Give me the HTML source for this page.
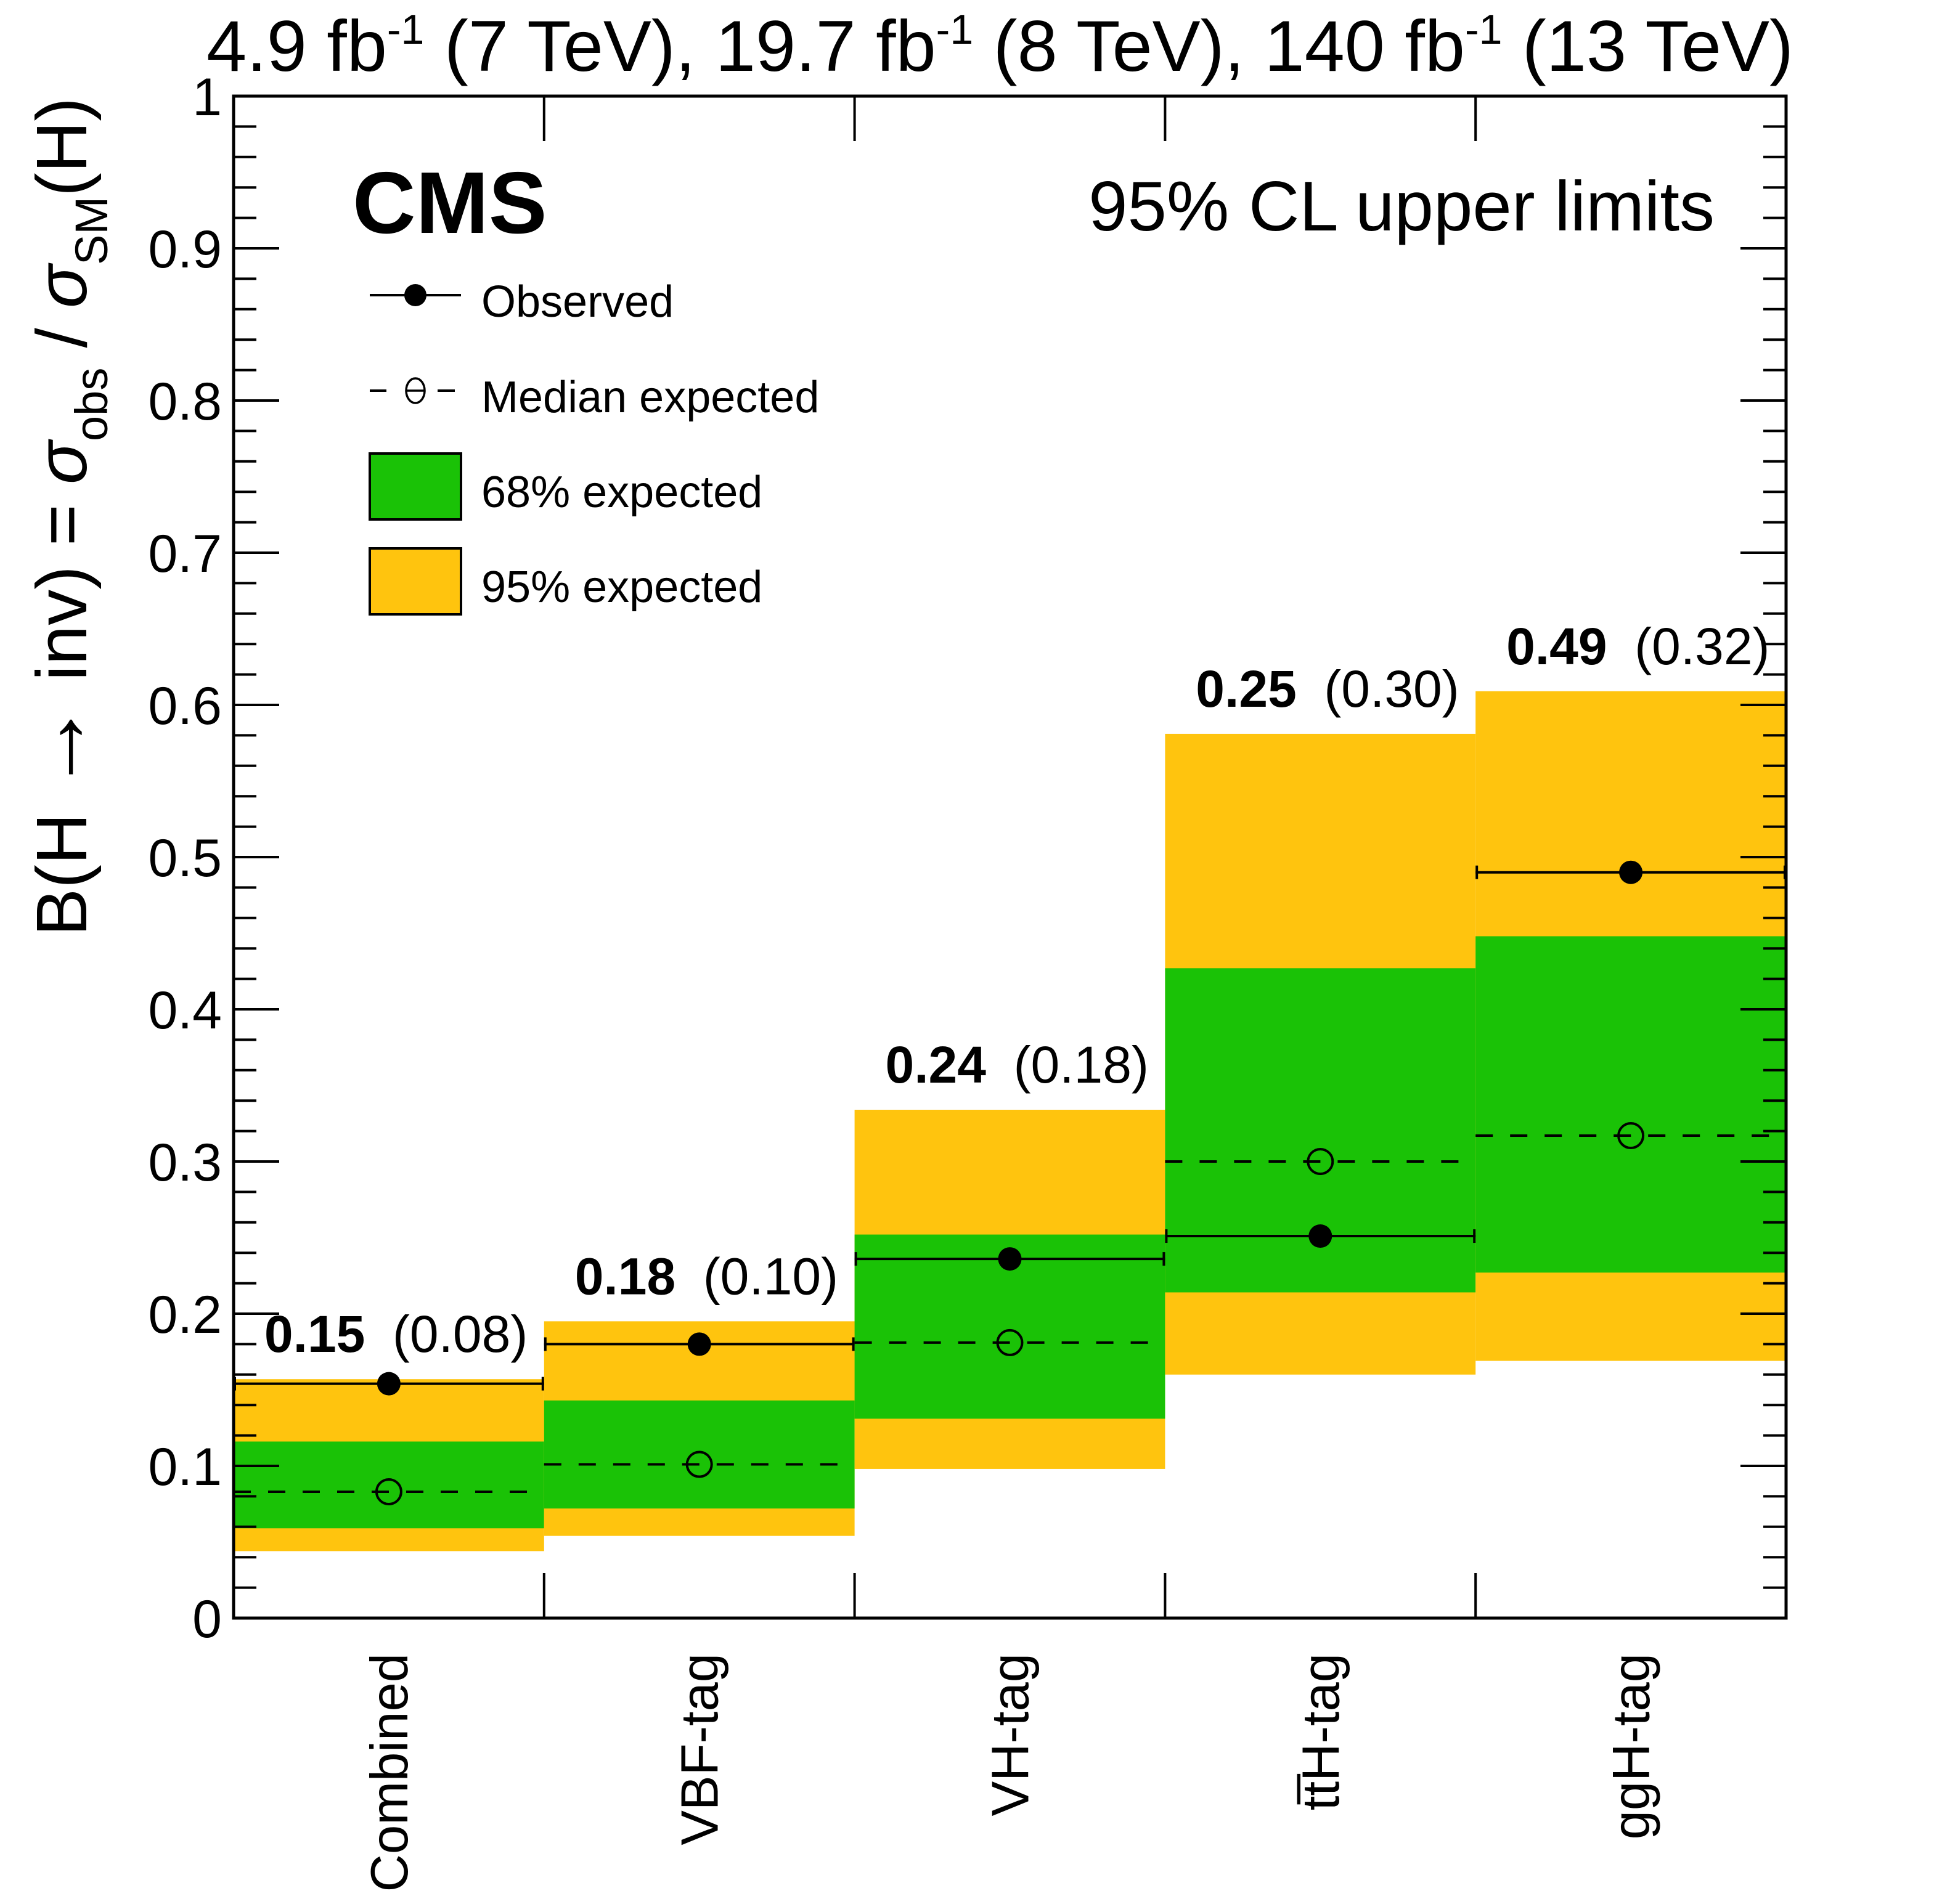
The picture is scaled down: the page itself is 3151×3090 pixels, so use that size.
<!DOCTYPE html>
<html><head><meta charset="utf-8"><style>
html,body{margin:0;padding:0;background:#fff;}
svg{display:block;font-family:"Liberation Sans",sans-serif;}
</style></head><body>
<svg id="chart" width="3151" height="3090" viewBox="0 0 3151 3090" xmlns="http://www.w3.org/2000/svg">
<g id="bands"></g>
<g id="marks"></g>
<g id="axes"></g>
<text x="2910" y="115" text-anchor="end" font-size="117">4.9 fb<tspan dy="-44" font-size="68">-1</tspan><tspan dy="44"> (7 TeV), 19.7 fb</tspan><tspan dy="-44" font-size="68">-1</tspan><tspan dy="44"> (8 TeV), 140 fb</tspan><tspan dy="-44" font-size="68">-1</tspan><tspan dy="44"> (13 TeV)</tspan></text>
<text x="572" y="378" font-size="142" font-weight="bold">CMS</text>
<text x="2782" y="374" text-anchor="end" font-size="114">95% CL upper limits</text>
<text transform="translate(140,158) rotate(-90)" text-anchor="end" font-size="116">B(H <tspan font-size="150">→</tspan> inv) = <tspan font-style="italic">σ</tspan><tspan dy="34" font-size="74">obs</tspan><tspan dy="-34"> / </tspan><tspan font-style="italic">σ</tspan><tspan dy="34" font-size="74">SM</tspan><tspan dy="-34">(H)</tspan></text>
<g>
 <g>
  <line x1="600" y1="479" x2="748" y2="479" stroke="#000" stroke-width="4"/>
  <circle cx="674" cy="479" r="18" fill="#000"/>
  <text x="781" y="514" font-size="72">Observed</text>
 </g>
 <g>
  <line x1="600" y1="634" x2="627" y2="634" stroke="#000" stroke-width="4"/>
  <line x1="710" y1="634" x2="738" y2="634" stroke="#000" stroke-width="4"/>
  <ellipse cx="674" cy="634" rx="15" ry="20" fill="none" stroke="#000" stroke-width="3.5"/>
  <line x1="659" y1="634" x2="689" y2="634" stroke="#000" stroke-width="3.5"/>
  <text x="781" y="669" font-size="72">Median expected</text>
 </g>
 <g>
  <rect x="600" y="736" width="148" height="107" fill="#1ac206" stroke="#000" stroke-width="4"/>
  <text x="781" y="823" font-size="72">68% expected</text>
 </g>
 <g>
  <rect x="600" y="890" width="148" height="107" fill="#ffc40e" stroke="#000" stroke-width="4"/>
  <text x="781" y="977" font-size="72">95% expected</text>
 </g>
</g>
</svg>
<script>
const categories = ["Combined","VBF-tag","VH-tag","tt\u0305H-tag","ggH-tag"];
const observed = [0.154,0.180,0.236,0.251,0.490];
const expected = [0.083,0.101,0.181,0.300,0.317];
const lo95 = [0.044,0.054,0.098,0.160,0.169];
const hi95 = [0.157,0.195,0.334,0.581,0.609];
const lo68 = [0.059,0.072,0.131,0.214,0.227];
const hi68 = [0.116,0.143,0.252,0.427,0.448];
const obsLabels = ["0.15","0.18","0.24","0.25","0.49"];
const expLabels = ["(0.08)","(0.10)","(0.18)","(0.30)","(0.32)"];
const yTicks = [0,0.1,0.2,0.3,0.4,0.5,0.6,0.7,0.8,0.9,1];
const yTickLabels = ["0","0.1","0.2","0.3","0.4","0.5","0.6","0.7","0.8","0.9","1"];

const NS="http://www.w3.org/2000/svg";
const X0=379, X1=2898, Y0=2626, Y1=156;
const colW=(X1-X0)/categories.length;
function xs(i){return X0+i*colW;}
function ys(v){return Y0-(v-0)/(1-0)*(Y0-Y1);}
function mk(tag,attrs,parent){const e=document.createElementNS(NS,tag);for(const k in attrs)e.setAttribute(k,attrs[k]);parent.appendChild(e);return e;}
const bands=document.getElementById('bands'), marks=document.getElementById('marks'), axes=document.getElementById('axes');

categories.forEach((c,i)=>{
  const xl=xs(i), xr=xs(i+1), xc=(xl+xr)/2;
  let r=mk('rect',{x:xl,y:ys(hi95[i]),width:colW,height:ys(lo95[i])-ys(hi95[i]),fill:'#ffc40e'},bands);
  
  
  r=mk('rect',{x:xl,y:ys(hi68[i]),width:colW,height:ys(lo68[i])-ys(hi68[i]),fill:'#1ac206'},bands);
  
  
  let l=mk('line',{x1:xl,y1:ys(expected[i]),x2:xr,y2:ys(expected[i]),stroke:'#000','stroke-width':4,'stroke-dasharray':'28 28'},marks);
  
  
  let ci=mk('circle',{cx:xc,cy:ys(expected[i]),r:20,fill:'none',stroke:'#000','stroke-width':4},marks);
  
  
  const yo=ys(observed[i]);
  l=mk('line',{x1:xl,y1:yo,x2:xr,y2:yo,stroke:'#000','stroke-width':4},marks);
  
  
  mk('line',{x1:xl+2,y1:yo-11,x2:xl+2,y2:yo+11,stroke:'#000','stroke-width':4},marks);
  mk('line',{x1:xr-2,y1:yo-11,x2:xr-2,y2:yo+11,stroke:'#000','stroke-width':4},marks);
  ci=mk('circle',{cx:xc,cy:yo,r:19,fill:'#000'},marks);
  
  
  const by=ys(hi95[i])-44;
  let t=mk('text',{x:xc-202,y:by,'font-size':84,'font-weight':'bold'},marks);
  t.textContent=obsLabels[i];
  
  
  t=mk('text',{x:xc+6,y:by,'font-size':84},marks);
  t.textContent=expLabels[i];
  
  
  t=mk('text',{transform:'translate('+(xc+30)+',2683) rotate(-90)','text-anchor':'end','font-size':85},axes);
  t.textContent=c;
  
  
});

mk('rect',{x:X0,y:Y1,width:X1-X0,height:Y0-Y1,fill:'none',stroke:'#000','stroke-width':5},axes);
for(let i=1;i<categories.length;i++){
  const x=xs(i);
  mk('line',{x1:x,y1:Y0,x2:x,y2:Y0-73,stroke:'#000','stroke-width':4},axes);
  mk('line',{x1:x,y1:Y1,x2:x,y2:Y1+73,stroke:'#000','stroke-width':4},axes);
}
for(let k=1;k<50;k++){
  if(k%5===0)continue;
  const y=ys(k*0.02);
  mk('line',{x1:X0,y1:y,x2:X0+37,y2:y,stroke:'#000','stroke-width':4},axes);
  mk('line',{x1:X1,y1:y,x2:X1-37,y2:y,stroke:'#000','stroke-width':4},axes);
}
yTicks.forEach((v,j)=>{
  const y=ys(v);
  mk('line',{x1:X0,y1:y,x2:X0+74,y2:y,stroke:'#000','stroke-width':4},axes);
  mk('line',{x1:X1,y1:y,x2:X1-74,y2:y,stroke:'#000','stroke-width':4},axes);
  const t=mk('text',{x:360,y:y+31,'text-anchor':'end','font-size':86},axes);
  t.textContent=yTickLabels[j];
  
  
});
</script>
</body></html>
